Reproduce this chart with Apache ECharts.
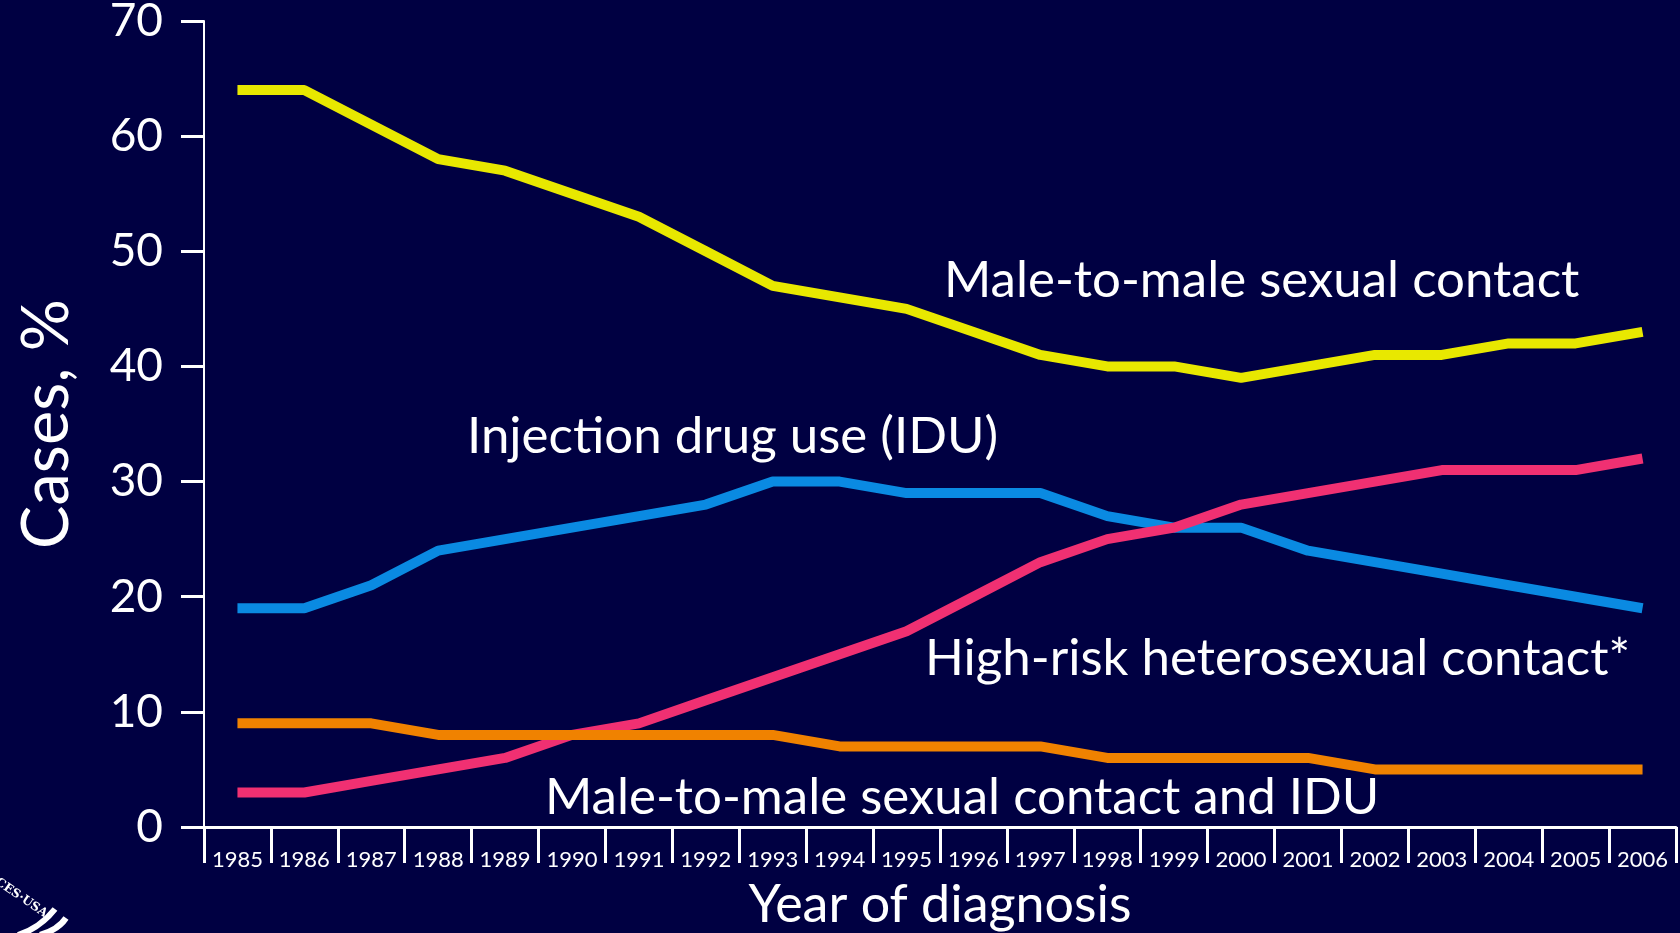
<!DOCTYPE html>
<html>
<head>
<meta charset="utf-8">
<title>Cases by transmission category</title>
<script src="https://cdn.jsdelivr.net/npm/echarts@6/dist/echarts.min.js"></script>
<style>
  html, body { margin: 0; padding: 0; background: #000042; }
  #main { width: 1680px; height: 933px; }
</style>
</head>
<body>
<div id="main"></div>
<script>
// data
var years = ['1985', '1986', '1987', '1988', '1989', '1990', '1991', '1992', '1993', '1994', '1995',
             '1996', '1997', '1998', '1999', '2000', '2001', '2002', '2003', '2004', '2005', '2006'];
var maleToMale = [64, 64, 61, 58, 57, 55, 53, 50, 47, 46, 45, 43, 41, 40, 40, 39, 40, 41, 41, 42, 42, 43];
var idu = [19, 19, 21, 24, 25, 26, 27, 28, 30, 30, 29, 29, 29, 27, 26, 26, 24, 23, 22, 21, 20, 19];
var hetero = [3, 3, 4, 5, 6, 8, 9, 11, 13, 15, 17, 20, 23, 25, 26, 28, 29, 30, 31, 31, 31, 32];
var msmIdu = [9, 9, 9, 8, 8, 8, 8, 8, 8, 7, 7, 7, 7, 6, 6, 6, 6, 5, 5, 5, 5, 5];
var yTicks = [0, 10, 20, 30, 40, 50, 60, 70];

var FONT = 'Lato, "Noto Sans", sans-serif';

var myChart = echarts.init(document.getElementById('main'));

function lineSeries(name, data, color) {
    return {
        name: name,
        type: 'line',
        data: data,
        showSymbol: false,
        symbol: 'none',
        lineStyle: { color: color, width: 10 },
        z: 3
    };
}

// annotation text on the chart
function note(text, x, y) {
    return {
        type: 'text',
        x: x,
        y: y,
        z: 10,
        style: {
            text: text,
            fill: '#ffffff',
            font: '51px ' + FONT,
            verticalAlign: 'middle'
        }
    };
}

var option = {
    backgroundColor: '#000042',
    animation: false,
    grid: { left: 204, right: 4, top: 21, bottom: 106, outerBoundsMode: 'none' },
    xAxis: {
        type: 'category',
        data: years,
        boundaryGap: true,
        name: 'Year of diagnosis',
        nameLocation: 'middle',
        nameGap: 52,
        nameTextStyle: { color: '#fff', fontSize: 52, fontFamily: FONT },
        axisLine: { show: true, lineStyle: { color: '#fff', width: 3 } },
        axisTick: { show: true, length: 36, lineStyle: { color: '#fff', width: 3 } },
        axisLabel: { color: '#fff', fontSize: 22, fontFamily: FONT, margin: 22, interval: 0 },
        splitLine: { show: false }
    },
    yAxis: {
        type: 'value',
        min: yTicks[0],
        max: yTicks[yTicks.length - 1],
        interval: 10,
        name: 'Cases, %',
        nameLocation: 'middle',
        nameGap: 124,
        nameTextStyle: { color: '#fff', fontSize: 65, fontFamily: FONT },
        axisLine: { show: true, lineStyle: { color: '#fff', width: 2 } },
        axisTick: { show: true, length: 23, lineStyle: { color: '#fff', width: 3 } },
        axisLabel: { color: '#fff', fontSize: 46, fontFamily: FONT, margin: 41, padding: [10, 0, 0, 0] },
        splitLine: { show: false }
    },
    series: [
        lineSeries('Male-to-male sexual contact', maleToMale, '#e8e800'),
        lineSeries('Injection drug use (IDU)', idu, '#0a8ae2'),
        lineSeries('High-risk heterosexual contact*', hetero, '#f03072'),
        lineSeries('Male-to-male sexual contact and IDU', msmIdu, '#f08200')
    ],
    graphic: [
        note('Male-to-male sexual contact', 944, 281),
        note('Injection drug use (IDU)', 467, 437),
        note('High-risk heterosexual contact*', 925, 659),
        note('Male-to-male sexual contact and IDU', 545, 798),
        // corner of the agency logo
        {
            type: 'text',
            x: 0, y: 876,
            rotation: -0.6,
            style: { text: 'CES·USA', fill: '#fff', font: 'bold 12px "DejaVu Serif", serif' }
        },
        {
            type: 'bezierCurve',
            shape: { x1: 18, y1: 935, cpx1: 40, cpy1: 928, x2: 55, y2: 909 },
            style: { stroke: '#fff', lineWidth: 6, fill: null }
        },
        {
            type: 'bezierCurve',
            shape: { x1: 40, y1: 935, cpx1: 58, cpy1: 930, x2: 66, y2: 918 },
            style: { stroke: '#fff', lineWidth: 6, fill: null }
        }
    ]
};

myChart.setOption(option);
</script>
</body>
</html>
